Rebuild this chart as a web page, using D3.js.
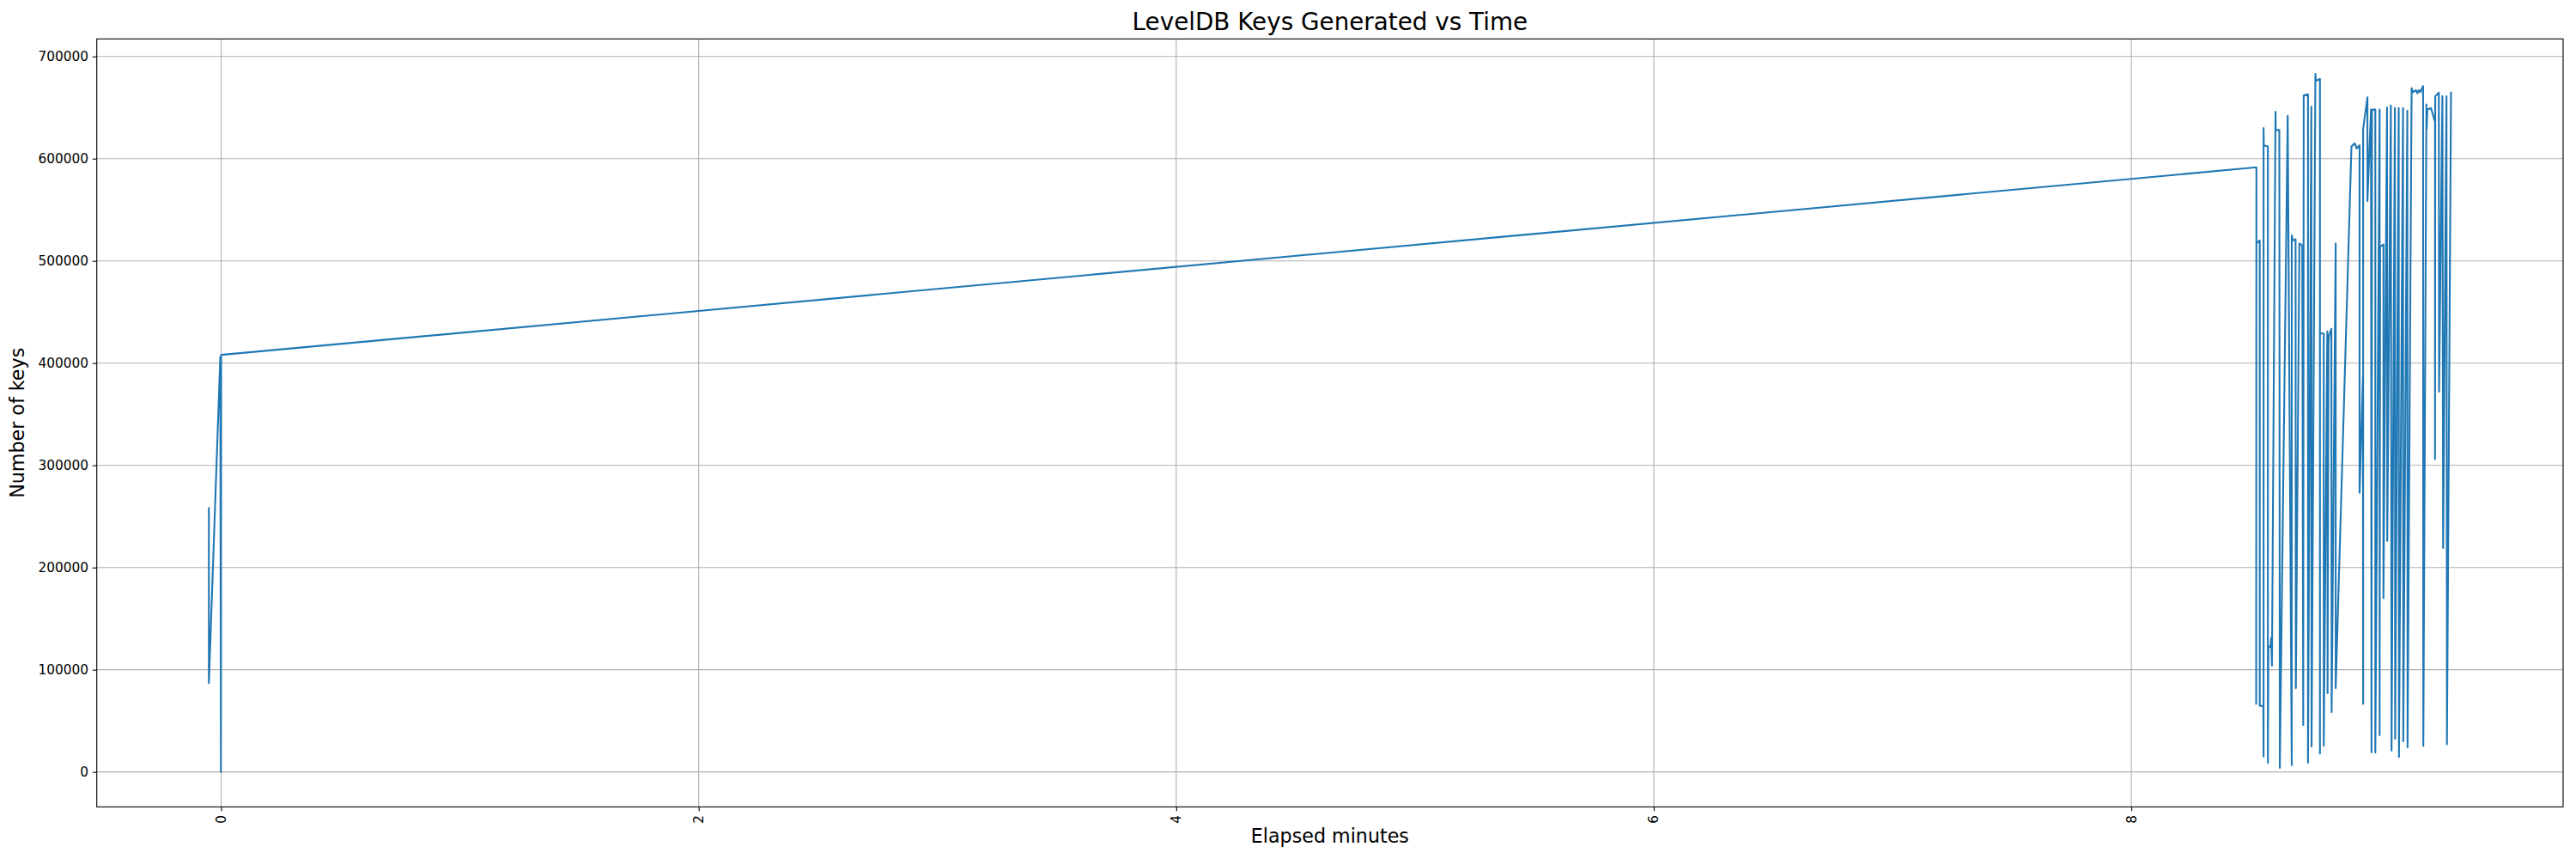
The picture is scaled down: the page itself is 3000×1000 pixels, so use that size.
<!DOCTYPE html>
<html>
<head>
<meta charset="utf-8">
<script src="https://cdn.jsdelivr.net/npm/d3@7"></script>
<style>
  html, body { margin: 0; padding: 0; background: #ffffff; }
  svg { display: block; }
  text { font-family: "DejaVu Sans", sans-serif; fill: #000; }
</style>
</head>
<body>
<svg id="chart" width="3000" height="1000"></svg>
<script>
// ---- data ----
const minutes = [
  -0.0514, -0.0514, -0.0036, -0.001, 0.0, 8.524,
  8.523, 8.524, 8.538, 8.538, 8.553, 8.554, 8.554, 8.555, 8.572, 8.572,
  8.574, 8.584, 8.586, 8.589, 8.604, 8.605, 8.620, 8.622, 8.655, 8.672,
  8.672, 8.677, 8.688, 8.689, 8.704, 8.716, 8.720, 8.722, 8.740, 8.740,
  8.754, 8.755, 8.771, 8.773, 8.790, 8.790, 8.790, 8.806, 8.806, 8.821,
  8.822, 8.826, 8.828, 8.838, 8.839, 8.856, 8.856, 8.922, 8.936, 8.944,
  8.956, 8.956, 8.970, 8.971, 8.971, 8.989, 8.989, 9.004, 9.006, 9.008,
  9.022, 9.022, 9.040, 9.040, 9.042, 9.056, 9.056, 9.071, 9.072, 9.087,
  9.090, 9.104, 9.105, 9.120, 9.121, 9.138, 9.139, 9.156, 9.157, 9.174,
  9.180, 9.192, 9.198, 9.204, 9.210, 9.222, 9.223, 9.236, 9.237, 9.240,
  9.255, 9.272, 9.272, 9.273, 9.288, 9.289, 9.303, 9.306, 9.320, 9.322,
  9.339
];
const keys = [
  258000, 87000, 406000, 0, 408000, 591500,
  66500, 517000, 520000, 64600, 64600, 15000, 630000, 613000, 612000, 9000,
  121000, 124000, 131000, 104000, 646000, 628000, 628000, 4000, 642000, 6600,
  525000, 520000, 521000, 82000, 517000, 515000, 46000, 662000, 663000, 9000,
  651000, 25000, 683000, 676000, 678000, 18000, 429000, 429000, 25500, 431000,
  77000, 419000, 427000, 433500, 58500, 517000, 82000, 612000, 615000, 610000,
  613000, 273000, 386000, 66500, 629000, 660000, 558500, 648000, 19000, 648000,
  648000, 19000, 648000, 36000, 514000, 516000, 170000, 650000, 226000, 652000,
  21000, 649500, 32500, 649500, 14600, 649500, 30000, 647000, 24000, 669000,
  665000, 667000, 664000, 667000, 665000, 671000, 25500, 653000, 629000, 648000,
  649500, 636000, 306000, 661000, 664600, 372000, 661000, 219000, 661000, 27000,
  664600
];
const xTicks = [0, 2, 4, 6, 8];
const xTickLabels = ["0", "2", "4", "6", "8"];
const yTicks = [0, 100000, 200000, 300000, 400000, 500000, 600000, 700000];
const yTickLabels = ["0", "100000", "200000", "300000", "400000", "500000", "600000", "700000"];
const titleText = "LevelDB Keys Generated vs Time";
const xLabelText = "Elapsed minutes";
const yLabelText = "Number of keys";

// ---- layout ----
const svg = d3.select("#chart");
const plot = { left: 112.7, right: 2985, top: 45.3, bottom: 939.3 };

const xMin = d3.min(minutes), xMax = d3.max(minutes);
const yMin = d3.min(keys), yMax = d3.max(keys);
const xPad = (xMax - xMin) * 0.05, yPad = (yMax - yMin) * 0.05;

const x = d3.scaleLinear().domain([xMin - xPad, xMax + xPad]).range([plot.left, plot.right]);
const y = d3.scaleLinear().domain([yMin - yPad, yMax + yPad]).range([plot.bottom, plot.top]);

const gridColor = "#b0b0b0";

// grid
const grid = svg.append("g");
grid.selectAll("line.gx").data(xTicks).enter().append("line")
  .attr("x1", d => x(d)).attr("x2", d => x(d))
  .attr("y1", plot.top).attr("y2", plot.bottom)
  .attr("stroke", gridColor).attr("stroke-width", 1.1);
grid.selectAll("line.gy").data(yTicks).enter().append("line")
  .attr("x1", plot.left).attr("x2", plot.right)
  .attr("y1", d => y(d)).attr("y2", d => y(d))
  .attr("stroke", gridColor).attr("stroke-width", 1.1);

// line
const pts = minutes.map((m, i) => [m, keys[i]]);
const line = d3.line().x(d => x(d[0])).y(d => y(d[1]));
svg.append("path")
  .datum(pts)
  .attr("d", line)
  .attr("fill", "none")
  .attr("stroke", "#1f77b4")
  .attr("stroke-width", 2.1)
  .attr("stroke-linejoin", "round")
  .attr("stroke-linecap", "square");

// spines
svg.append("rect")
  .attr("x", plot.left).attr("y", plot.top)
  .attr("width", plot.right - plot.left).attr("height", plot.bottom - plot.top)
  .attr("fill", "none").attr("stroke", "#000").attr("stroke-width", 1.1);

// x axis ticks
const xAxisG = svg.append("g").attr("transform", `translate(0,${plot.bottom})`)
  .call(d3.axisBottom(x).tickValues(xTicks).tickFormat((d, i) => xTickLabels[i]).tickSize(4.9).tickPadding(4.9));
xAxisG.select(".domain").remove();
xAxisG.selectAll(".tick line").attr("stroke", "#000").attr("stroke-width", 1.1);
xAxisG.selectAll(".tick text")
  .attr("font-size", "15.3px")
  .attr("font-family", "DejaVu Sans")
  .attr("fill", "#000")
  .attr("y", 0).attr("dy", null)
  .attr("text-anchor", "end")
  .attr("dominant-baseline", "central")
  .attr("transform", "translate(0,9.8) rotate(-90)");

// y axis ticks
const yAxisG = svg.append("g").attr("transform", `translate(${plot.left},0)`)
  .call(d3.axisLeft(y).tickValues(yTicks).tickFormat((d, i) => yTickLabels[i]).tickSize(4.9).tickPadding(4.9));
yAxisG.select(".domain").remove();
yAxisG.selectAll(".tick line").attr("stroke", "#000").attr("stroke-width", 1.1);
yAxisG.selectAll(".tick text")
  .attr("font-size", "15.3px")
  .attr("font-family", "DejaVu Sans")
  .attr("fill", "#000")
  .attr("dy", null)
  .attr("dominant-baseline", "central");

// title and labels
svg.append("text")
  .attr("x", (plot.left + plot.right) / 2).attr("y", 35)
  .attr("text-anchor", "middle")
  .attr("font-size", "27.8px")
  .text(titleText);

svg.append("text")
  .attr("x", (plot.left + plot.right) / 2).attr("y", 980.5)
  .attr("text-anchor", "middle")
  .attr("font-size", "22.2px")
  .text(xLabelText);

svg.append("text")
  .attr("transform", `translate(28,${(plot.top + plot.bottom) / 2}) rotate(-90)`)
  .attr("text-anchor", "middle")
  .attr("font-size", "22.2px")
  .text(yLabelText);
</script>
</body>
</html>
